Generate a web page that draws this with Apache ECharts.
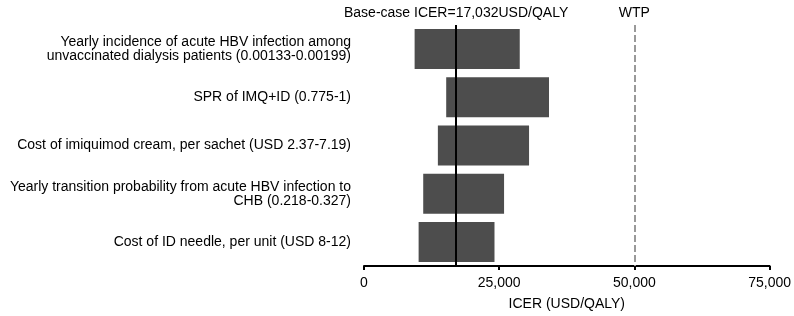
<!DOCTYPE html>
<html>
<head>
<meta charset="utf-8">
<script src="https://cdn.jsdelivr.net/npm/echarts@6/dist/echarts.min.js"></script>
<style>
  html, body { margin: 0; padding: 0; background: #fff; }
  #chart { width: 794px; height: 316px; }
</style>
</head>
<body>
<div id="chart"></div>
<script>
// tornado chart: low / high ICER for each parameter
var params = [
    'Yearly incidence of acute HBV infection among\nunvaccinated dialysis patients (0.00133-0.00199)',
    'SPR of IMQ+ID (0.775-1)',
    'Cost of imiquimod cream, per sachet (USD 2.37-7.19)',
    'Yearly transition probability from acute HBV infection to\nCHB (0.218-0.327)',
    'Cost of ID needle, per unit (USD 8-12)'
];
var lowIcer = [9360, 15200, 13660, 10950, 10100];
var highIcer = [28800, 34210, 30520, 25900, 24130];
var baseCase = 17032;
var wtp = 50000;
var xTicks = [0, 25000, 50000, 75000];

var spans = highIcer.map(function (h, i) { return h - lowIcer[i]; });

var myChart = echarts.init(document.getElementById('chart'));

var font = 'Liberation Sans, Arial, sans-serif';

option = {
    animation: false,
    grid: { left: 364, right: 24, top: 25, bottom: 46.5, containLabel: false },
    xAxis: {
        type: 'value',
        min: xTicks[0],
        max: xTicks[xTicks.length - 1],
        interval: 25000,
        name: 'ICER (USD/QALY)',
        nameLocation: 'middle',
        nameGap: 31,
        nameTextStyle: { color: '#000', fontSize: 14, fontFamily: font },
        axisLine: { show: true, lineStyle: { color: '#000', width: 2 } },
        axisTick: { show: true, length: 4, lineStyle: { color: '#000', width: 2 } },
        splitLine: { show: false },
        axisLabel: {
            color: '#000', fontSize: 14, fontFamily: font, margin: 10,
            formatter: function (v) { return v.toLocaleString('en-US'); }
        }
    },
    yAxis: {
        type: 'category',
        inverse: true,
        data: params,
        axisLine: { show: false },
        axisTick: { show: false },
        axisLabel: {
            color: '#000', fontSize: 14, fontFamily: font, margin: 13,
            lineHeight: 14, align: 'right'
        }
    },
    series: [
        {
            name: 'low',
            type: 'bar',
            stack: 'icer',
            data: lowIcer,
            itemStyle: { color: 'transparent' },
            silent: true
        },
        {
            name: 'range',
            type: 'bar',
            stack: 'icer',
            data: spans,
            barCategoryGap: '17%',
            itemStyle: { color: '#4d4d4d' },
            markLine: {
                symbol: 'none',
                silent: true,
                data: [
                    {
                        xAxis: baseCase,
                        lineStyle: { color: '#000', width: 2, type: 'solid' },
                        label: {
                            show: true, position: 'start', distance: 5,
                            formatter: 'Base-case ICER=17,032USD/QALY',
                            color: '#000', fontSize: 14, fontFamily: font
                        }
                    },
                    {
                        xAxis: wtp,
                        lineStyle: { color: '#999', width: 2, type: [7, 3] },
                        label: {
                            show: true, position: 'start', distance: 5,
                            formatter: 'WTP',
                            color: '#000', fontSize: 14, fontFamily: font
                        }
                    }
                ]
            }
        }
    ]
};

myChart.setOption(option);
</script>
</body>
</html>
